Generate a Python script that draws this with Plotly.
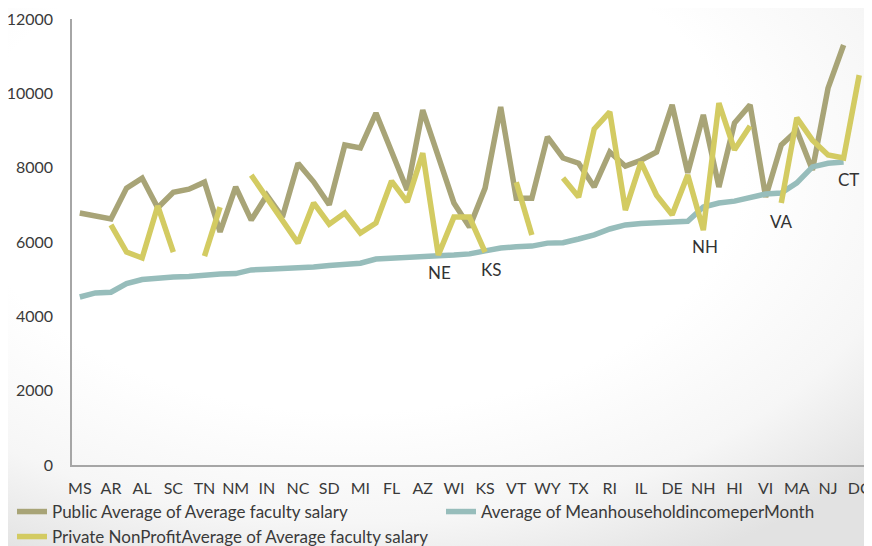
import base64
import plotly.graph_objects as go

states = ["MS", "WV", "AR", "KY", "AL", "LA", "SC", "OK", "TN", "MT",
          "NM", "ID", "IN", "ME", "NC", "MO", "SD", "OH", "MI", "GA",
          "FL", "IA", "AZ", "NE", "WI", "ND", "KS", "OR", "VT", "UT",
          "WY", "NV", "TX", "PA", "RI", "CO", "IL", "WA", "DE", "NY",
          "NH", "AK", "HI", "CA", "VI", "VA", "MA", "MD", "NJ", "CT", "DC"]

public_salary = [6780, 6700, 6620, 7450, 7720, 6920, 7340, 7420, 7610, 6270,
                 7480, 6590, 7260, 6670, 8120, 7620, 7000, 8610, 8530, 9470,
                 8450, 7400, 9550, 8260, 7050, 6400, 7450, 9630, 7180, 7180,
                 8830, 8260, 8120, 7480, 8420, 8040, 8200, 8420, 9690, 7860,
                 9420, 7480, 9200, 9690, 7210, 8610, 9000, 7940, 10140, 11300, None]

household_income = [4520, 4630, 4650, 4880, 4990, 5040, 5060, 5070, 5110, 5140,
                    5150, 5250, 5270, 5280, 5300, 5330, 5370, 5400, 5430, 5540,
                    5570, 5600, 5620, 5630, 5650, 5680, 5760, 5840, 5870, 5890,
                    5970, 5980, 6080, 6190, 6350, 6460, 6500, 6510, 6520, 6560,
                    6940, 7050, 7100, 7180, 7290, 7320, 7590, 8020, 8120, 8150, None]

private_salary = [None, None, 6460, 5730, 5570, 6970, 5730, None, 5620, 6940,
                  None, 7800, 7200, 6600, 5970, 7050, 6480, 6780, 6240, 6510,
                  7640, 7080, 8390, 5650, 6670, 6670, 5730, None, 7610, 6190,
                  None, 7720, 7210, 9040, 9500, 6860, 8150, 7260, 6730, 7800,
                  6320, 9740, 8480, 9120, None, 7050, 9340, 8740, 8340, 8260, 10490]

y_ticks = [0, 2000, 4000, 6000, 8000, 10000, 12000]

callouts = ["NE", "KS", "NH", "VA", "CT"]
callout_x = [23.1, 26.4, 40.1, 45.0, 49.3]
callout_y = [5190, 5250, 5870, 6540, 7670]

tick_idx = list(range(0, len(states), 2))

font_family = "Lato"
text_color = "#3A3A3A"

W, H = 864, 538
ML, MR, MT, MB = 64, 5, 11, 81
PW, PH = W - ML - MR, H - MT - MB

# soft slide-style background (white centre, light grey towards the corners)
bg_svg = (
    '<svg xmlns="http://www.w3.org/2000/svg" width="864" height="538">'
    '<defs><radialGradient id="g" cx="0.40" cy="0.30" r="0.82">'
    '<stop offset="0.55" stop-color="#FFFFFF"/>'
    '<stop offset="0.80" stop-color="#F6F6F6"/>'
    '<stop offset="1" stop-color="#E2E2E2"/>'
    '</radialGradient></defs>'
    '<rect width="864" height="538" fill="url(#g)"/></svg>'
)
bg_src = "data:image/svg+xml;base64," + base64.b64encode(bg_svg.encode()).decode()

fig = go.Figure()
fig.add_trace(go.Scatter(
    x=list(range(len(states))), y=public_salary, mode="lines",
    name="Public Average of Average faculty salary",
    line=dict(color="#A8A477", width=5.5), legend="legend", connectgaps=False))
fig.add_trace(go.Scatter(
    x=list(range(len(states))), y=household_income, mode="lines",
    name="Average of MeanhouseholdincomeperMonth",
    line=dict(color="#97BDBB", width=5.5), legend="legend2", connectgaps=False))
fig.add_trace(go.Scatter(
    x=list(range(len(states))), y=private_salary, mode="lines",
    name="Private NonProfitAverage of Average faculty salary",
    line=dict(color="#D3CB62", width=5.5), legend="legend3", connectgaps=False))

for t, cx, cy in zip(callouts, callout_x, callout_y):
    fig.add_annotation(x=cx, y=cy, text=t, showarrow=False,
                       font=dict(family=font_family, size=17, color="#333333"))

legend_common = dict(orientation="h", xref="container", yref="container",
                     xanchor="left", yanchor="middle", bgcolor="rgba(0,0,0,0)",
                     font=dict(family=font_family, size=17, color=text_color))

fig.update_layout(
    width=W, height=H,
    margin=dict(l=ML, r=MR, t=MT, b=MB, autoexpand=False),
    paper_bgcolor="white", plot_bgcolor="rgba(0,0,0,0)",
    font=dict(family=font_family, size=17, color=text_color),
    images=[dict(source=bg_src, xref="paper", yref="paper",
                 x=-ML / PW, y=1 + MT / PH, sizex=W / PW, sizey=H / PH,
                 sizing="stretch", xanchor="left", yanchor="top",
                 layer="below")],
    xaxis=dict(range=[-0.5, len(states) - 0.5],
               tickmode="array", tickvals=tick_idx,
               ticktext=[states[i] for i in tick_idx],
               showgrid=False, zeroline=False,
               showline=True, linecolor="#A6A6A6", linewidth=1.5,
               ticks="", ticklabelstandoff=8,
               tickfont=dict(size=16, color=text_color)),
    yaxis=dict(range=[0, 12000], tickmode="array", tickvals=y_ticks,
               ticktext=[str(v) for v in y_ticks],
               showgrid=False, zeroline=False,
               showline=True, linecolor="#A6A6A6", linewidth=1.5,
               ticks="", ticklabelstandoff=14,
               tickfont=dict(size=16, color=text_color)),
    legend=dict(x=4 / W, y=1 - 504 / H, **legend_common),
    legend2=dict(x=433 / W, y=1 - 504 / H, **legend_common),
    legend3=dict(x=4 / W, y=1 - 529 / H, **legend_common),
    showlegend=True,
)

fig.write_html("out.html")
